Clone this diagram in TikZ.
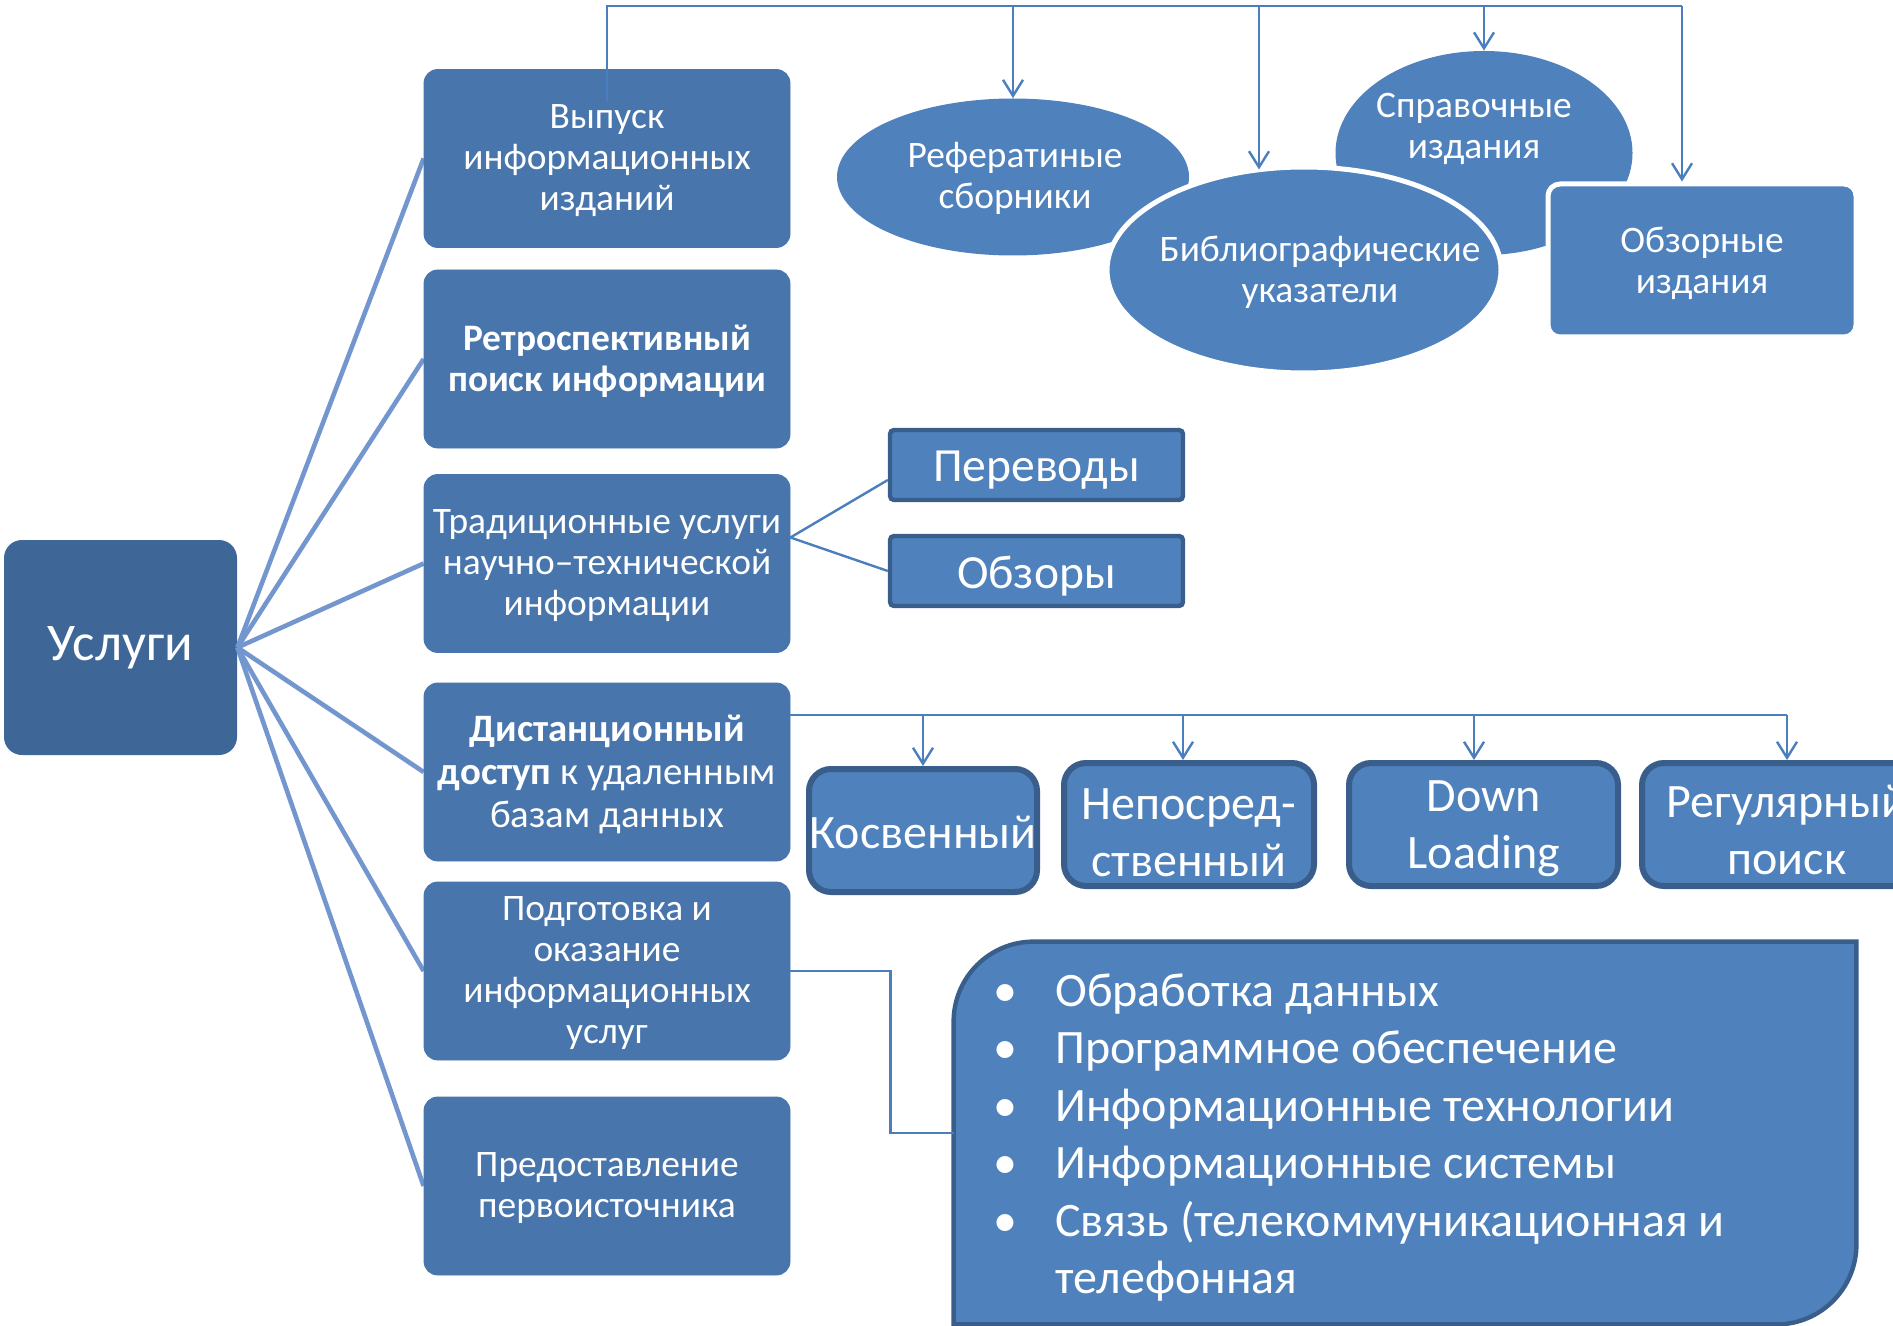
\documentclass[tikz,border=0pt]{standalone}
\usepackage{fontspec}
\setmainfont{Carlito}
\usetikzlibrary{arrows.meta,shapes.geometric}
\definecolor{boxL}{RGB}{71,117,172}
\definecolor{boxU}{RGB}{62,103,152}
\definecolor{acc}{RGB}{79,129,189}
\definecolor{dk}{RGB}{57,94,140}
\definecolor{fanc}{RGB}{116,150,206}
\definecolor{cn}{RGB}{74,126,189}
\begin{document}
\begin{tikzpicture}[x=0.5pt,y=-0.5pt,
  lbox/.style={fill=boxL, rounded corners=7pt, minimum width=183pt, minimum height=89pt, inner sep=0pt},
  ltext/.style={text=white, align=center, inner sep=0pt, font=\fontsize{18.7}{20.5}\selectfont},
  ell/.style={ellipse, fill=acc, inner sep=0pt},
  smallbox/.style={fill=acc, draw=dk, line width=2.2pt, rounded corners=2pt,
    minimum width=146.5pt, minimum height=35pt, inner sep=0pt},
  stext/.style={text=white, inner sep=0pt, font=\fontsize{23.8}{28}\selectfont},
  rowbox/.style={fill=acc, draw=dk, line width=3pt, rounded corners=11pt,
    minimum height=61.5pt, inner sep=0pt},
  rtext/.style={text=white, align=center, inner sep=0pt, font=\fontsize{24}{28.4}\selectfont},
  fanline/.style={draw=fanc, line width=2.3pt},
  conn/.style={draw=cn, line width=1.2pt},
  arr/.style={conn, -{Straight Barb[length=8pt,width=10pt,line width=1.2pt]}}
]
\useasboundingbox (0,0) rectangle (1893,1326);
\clip (0,0) rectangle (1893,1326);

% central node
\node[fill=boxU, rounded corners=9pt, text=white, minimum width=116.5pt,
  minimum height=107.5pt, inner sep=0pt, font=\fontsize{26.5}{30}\selectfont]
  (usl) at (120.5,647.5) {Услуги};

% left column boxes (shapes)
\node[lbox] (b1) at (607,158.5) {};
\node[lbox] (b2) at (607,359) {};
\node[lbox] (b3) at (607,563.5) {};
\node[lbox] (b4) at (607,772) {};
\node[lbox] (b5) at (607,971) {};
\node[lbox] (b6) at (607,1186) {};

\foreach \b in {b1,b2,b3,b4,b5,b6} \draw[fanline] (usl.east) -- (\b.west);
\foreach \b in {b1,b2,b3,b4,b5,b6} \fill[boxL, rounded corners=7pt] (\b.south west) rectangle (\b.north east);

% left column texts
\node[ltext] (t1) at ([yshift=-1.2pt]b1.center) {Выпуск\\информационных\\изданий};
\node[ltext] (t2) at ([yshift=-1.2pt]b2.center) {\bfseries Ретроспективный\\\bfseries поиск информации};
\node[ltext] (t3) at ([yshift=-1.2pt]b3.center) {Традиционные услуги\\научно–технической\\информации};
\node[ltext, font=\fontsize{19.4}{21.5}\selectfont] (t4) at ([yshift=-1.2pt]b4.center) {\textbf{Дистанционный}\\\textbf{доступ} к удаленным\\базам данных};
\node[ltext] (t5) at ([yshift=-1.2pt]b5.center) {Подготовка и\\оказание\\информационных\\услуг};
\node[ltext] (t6) at ([yshift=-1.2pt]b6.center) {Предоставление\\первоисточника};

% top group
\node[ell, minimum width=176pt, minimum height=78.5pt] (ref) at (1013,177) {};
\node[ltext] (reft) at (1015,178) {Рефератиные\\сборники};
\node[ell, minimum width=148.5pt, minimum height=102pt] (spr) at (1484,153) {};
\node[ltext] (sprt) at (1474,129) {Справочные\\издания};
\node[ell, draw=white, line width=2.5pt, minimum width=197pt, minimum height=103pt] (bib) at (1304,270) {};
\node[ltext] (bibt) at (1320,272) {Библиографические\\указатели};
\node[fill=acc, draw=white, line width=2.5pt, rounded corners=6pt,
  minimum width=154pt, minimum height=76.5pt, inner sep=0pt] (obz) at (1702,260.5) {};
\node[ltext] (obzt) at (1702,263) {Обзорные\\издания};

\coordinate (T) at (0,6);
\draw[conn] ([yshift=-16pt]b1.north) |- ([xshift=-10pt]obz.north |- T);
\draw[arr] (ref.north |- T) -- (ref.north);
\draw[arr] ([xshift=-22.5pt]bib.north |- T) -- ([xshift=-22.5pt,yshift=-2.5pt]bib.north);
\draw[arr] (spr.north |- T) -- (spr.north);
\draw[arr] ([xshift=-10pt]obz.north |- T) -- ([xshift=-10pt]obz.north);

% traditional services
\node[smallbox] (per) at (1036.5,465) {};
\node[stext] (pert) at (1036.5,470) {Переводы};
\node[smallbox] (obzr) at (1036.5,571) {};
\node[stext] (obzrt) at (1036.5,576) {Обзоры};
\draw[conn] ([yshift=13pt]b3.east) -- ([yshift=-7.5pt]per.west);
\draw[conn] ([yshift=13pt]b3.east) -- (obzr.west);

% remote access
\node[rowbox, minimum width=114pt] (kos) at (923,830.5) {};
\node[rtext] (kost) at (923,832) {Косвенный};
\node[rowbox, minimum width=125pt] (nep) at (1189,824.5) {};
\node[rtext] (nept) at (1189,833) {Непосред-\\ственный};
\node[rowbox, minimum width=134.5pt] (down) at (1483.5,824.5) {};
\node[rtext] (downt) at (1484,829) {Down\\Loading};
\node[rowbox, minimum width=145pt] (reg) at (1787,824.5) {};
\node[rtext] (regt) at (1787,830) {Регулярный\\поиск};
\coordinate (R) at (0,715);
\draw[conn] ([yshift=28.5pt]b4.east) -- ([xshift=0pt]reg.north |- R);
\draw[arr] (kos.north |- R) -- (kos.north);
\draw[arr] ([xshift=-3pt]nep.north |- R) -- ([xshift=-3pt]nep.north);
\draw[arr] ([xshift=-4.75pt]down.north |- R) -- ([xshift=-4.75pt]down.north);
\draw[arr] (reg.north |- R) -- (reg.north);

% bullet box
\node[minimum width=451pt, minimum height=191pt, inner sep=0pt] (bul) at (1405,1133) {};
\draw[fill=acc, draw=dk, line width=2.2pt]
  (bul.south west) -- ([yshift=-40pt]bul.north west)
  arc[start angle=180, end angle=90, radius=40pt]
  -- (bul.north east) -- ([yshift=40pt]bul.south east)
  arc[start angle=0, end angle=-90, radius=40pt] -- cycle;
\node[anchor=base west, inner sep=0pt, text=white, font=\fontsize{24}{28.75}\selectfont]
  (bt) at (993,1006) {\begin{tabular}[t]{@{}p{31pt}@{}l@{}}
  \textbullet & Обработка данных\\
  \textbullet & Программное обеспечение\\
  \textbullet & Информационные технологии\\
  \textbullet & Информационные системы\\
  \textbullet & Связь (телекоммуникационная и\\
   & телефонная
  \end{tabular}};
\draw[conn] (b5.east) -- ++(50pt,0) |- (bul.west);
\end{tikzpicture}
\end{document}
